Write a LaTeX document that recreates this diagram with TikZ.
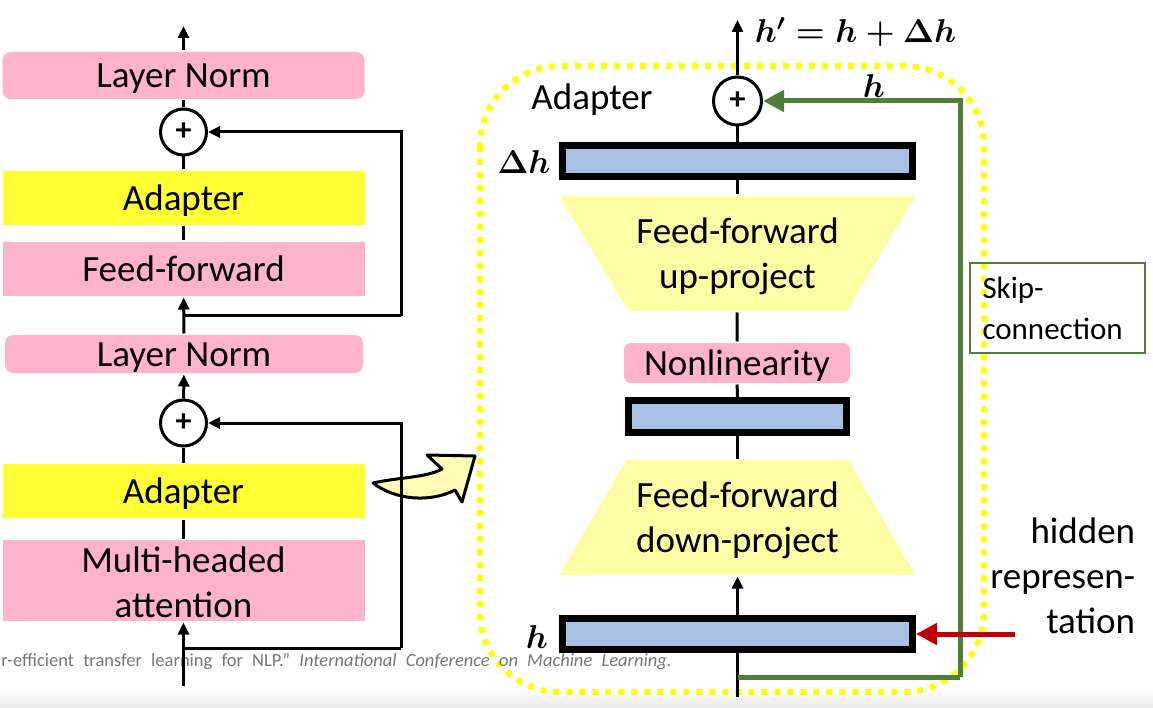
\RequirePackage{fix-cm}
\documentclass[tikz,border=0pt]{standalone}
\usepackage{fontspec}
\setmainfont{Carlito}
\usetikzlibrary{
  arrows.meta,
  chains,
  scopes
}
\definecolor{sublayerpink}{RGB}{255,179,204}
\definecolor{adapteryellow}{RGB}{255,255,51}
\definecolor{projyellow}{RGB}{255,252,166}
\definecolor{arrowyellow}{RGB}{255,251,180}
\definecolor{dotyellow}{RGB}{255,255,0}
\definecolor{vecblue}{RGB}{168,193,226}
\definecolor{skipgreen}{RGB}{80,126,56}
\definecolor{hiddenred}{RGB}{192,0,0}
\definecolor{citegray}{RGB}{118,118,118}
\newcommand{\blockfont}{\fontsize{37}{45}\selectfont}
\newcommand{\sumfont}{\fontsize{32}{32}\selectfont\bfseries}
\newcommand{\vecfont}{\fontsize{33}{40}\selectfont\boldmath}
\newcommand{\skipfont}{\fontsize{31}{41}\selectfont}
\newcommand{\citefont}{\fontsize{18.5}{20}\selectfont\spaceskip=9.2pt}

\begin{document}
\begin{tikzpicture}[x=1pt,y=-1pt,
      sublayer/.style={
         rectangle,
         fill=sublayerpink,
         minimum width=362pt,
         inner sep=0pt,
         font=\blockfont,
         text height=26pt,
         text depth=1pt
      },
      normlayer/.style={sublayer, rounded corners=8pt},
      adapterlayer/.style={sublayer, fill=adapteryellow, minimum height=54pt},
      sum/.style={
         circle,
         draw,
         line width=3pt,
         fill=white,
         inner sep=0pt,
         font=\sumfont
      },
      vecbar/.style={
         rectangle,
         draw,
         line width=7pt,
         fill=vecblue,
         minimum height=31pt,
         inner sep=0pt
      },
      proj/.style={
         rectangle,
         minimum width=356pt,
         minimum height=115pt,
         inner sep=0pt,
         font=\blockfont,
         align=center,
         text depth=0pt
      },
      upproj/.style={proj, path picture={
         \fill[projyellow] (path picture bounding box.north west) -- (path picture bounding box.north east)
            -- ([xshift=-69pt]path picture bounding box.south east) -- ([xshift=69pt]path picture bounding box.south west) -- cycle;}
      },
      downproj/.style={proj, path picture={
         \fill[projyellow] (path picture bounding box.south west) -- (path picture bounding box.south east)
            -- ([xshift=-67pt]path picture bounding box.north east) -- ([xshift=67pt]path picture bounding box.north west) -- cycle;}
      },
      point/.style={coordinate},
      tip/.style={-{Triangle[length=12pt,width=11pt]}},
      skipline/.style={draw=skipgreen, line width=5pt},
      redline/.style={draw=hiddenred, line width=5pt},
      bigtip/.style={-{Triangle[length=21pt,width=21pt]}},
      hv path/.style={to path={-| (\tikztotarget)}},
      vh path/.style={to path={|- (\tikztotarget)}},
      line width=3pt
    ]
    \useasboundingbox (0,0) rectangle (1153,708);
    \shade[top color=white, bottom color=black!8] (0,688) rectangle (1153,708);
    \draw[dotyellow, line width=6pt, dash pattern=on 6pt off 7pt, rounded corners=80pt] (480,66) rectangle (984,692);
    \draw[fill=arrowyellow, line join=round] (373,483) .. controls (400,477) and (425,478) .. (442,469) -- (427,455) -- (475,456) -- (462,502) -- (455,490) .. controls (430,503) and (395,500) .. cycle;
    \node (cite) [anchor=base west, inner sep=0pt, text=citegray, font=\citefont] at (0,666) {r-efficient transfer learning for NLP." \textit{International Conference on Machine Learning.}};

    \node (ln1) [normlayer, minimum height=47pt] at (183.5,75.5) {Layer Norm};
    \node (p1) [sum, minimum size=46pt] at (183.5,132) {+};
    \node (ad1) [adapterlayer] at (183.5,198) {Adapter};
    \node (ff) [sublayer, minimum height=54pt] at (183.5,269) {Feed-forward};
    \node (ln2) [normlayer, minimum width=358pt, minimum height=38pt] at (184,354) {Layer Norm};
    \node (p2) [sum, minimum size=46pt] at (183.5,423) {+};
    \node (ad2) [adapterlayer] at (183.5,491) {Adapter};
    \node (mha) [sublayer, minimum height=81pt, align=center, text height=74pt, text depth=0pt] at (183.5,580.5) {Multi-headed\\attention};
    \node (ltop) [point] at (183.5,26) {};
    \node (lbot) [point] at (183.5,686) {};
    \node (s1) [point] at (183.5,316) {};
    \node (k1) [point] at (401,316) {};
    \node (s2) [point] at (183.5,648) {};
    \node (k2) [point] at (401,648) {};

    \node (adlabel) [font=\blockfont, text height=26pt, text depth=1pt] at (592,97) {Adapter};
    \node (p3) [sum, minimum size=48pt] at (737.5,101) {+};
    \node (dhbar) [vecbar, minimum width=350pt] at (737.5,161) {};
    \node (uproj) [upproj] at (737.5,253.5) {Feed-forward\\up-project};
    \node (nl) [normlayer, minimum width=226pt, minimum height=40pt, rounded corners=7pt] at (737,363) {Nonlinearity};
    \node (mbar) [vecbar, minimum width=218pt, minimum height=32pt] at (737.5,416.5) {};
    \node (dproj) [downproj] at (737.5,517.5) {Feed-forward\\down-project};
    \node (hbar) [vecbar, minimum width=350pt] at (737.5,634) {};
    \node (rtop) [point] at (737.5,20) {};
    \node (rbot) [point] at (737.5,697) {};
    \node (g0) [point] at (737.5,677) {};
    \node (g1) [point] at (960,677) {};
    \node (hid) [point] at (1015,634) {};

    \node (hnew) [anchor=west, font=\vecfont] at (750,32) {$h'=h+\Delta h$};
    \node (dhlabel) [font=\vecfont] at (524,162) {$\Delta h$};
    \node (hlabel) [font=\vecfont] at (537,637) {$h$};
    \node (hskip) [font=\vecfont] at (874,86) {$h$};
    \node (skipnote) [draw=skipgreen, line width=2pt, minimum width=175pt, minimum height=90pt, text width=150pt, inner xsep=12pt, align=left, font=\skipfont] at (1057.5,308) {Skip-\\connection};
    \node (hidden) [anchor=east, align=right, font=\blockfont] at (1140,576) {hidden\\represen-\\tation};

  { [start chain]
       \chainin (lbot);
       \chainin (mha)    [join=by tip];
       \chainin (ad2)    [join];
       \chainin (p2)     [join];
       \chainin (ln2)    [join=by tip];
       \chainin (ff)     [join=by tip];
       \chainin (ad1)    [join];
       \chainin (p1)     [join];
       \chainin (ln1)    [join];
       \chainin (ltop)   [join=by tip];
  }
  { [start chain]
       \chainin (s1);
       \chainin (k1)     [join];
       \chainin (p1)     [join=by {vh path,tip}];
  }
  { [start chain]
       \chainin (s2);
       \chainin (k2)     [join];
       \chainin (p2)     [join=by {vh path,tip}];
  }
  { [start chain]
       \chainin (rbot);
       \chainin (hbar)   [join];
       \chainin (dproj)  [join=by tip];
       \chainin (mbar)   [join];
       \chainin (nl)     [join];
       \chainin (uproj)  [join];
       \chainin (dhbar)  [join];
       \chainin (p3)     [join];
       \chainin (rtop)   [join=by tip];
  }
  { [start chain]
       \chainin (g0);
       \chainin (g1)     [join=by skipline];
       \chainin (p3)     [join=by {skipline,vh path,bigtip}];
  }
  { [start chain]
       \chainin (hid);
       \chainin (hbar)   [join=by {redline,bigtip}];
  }
\end{tikzpicture}
\end{document}
